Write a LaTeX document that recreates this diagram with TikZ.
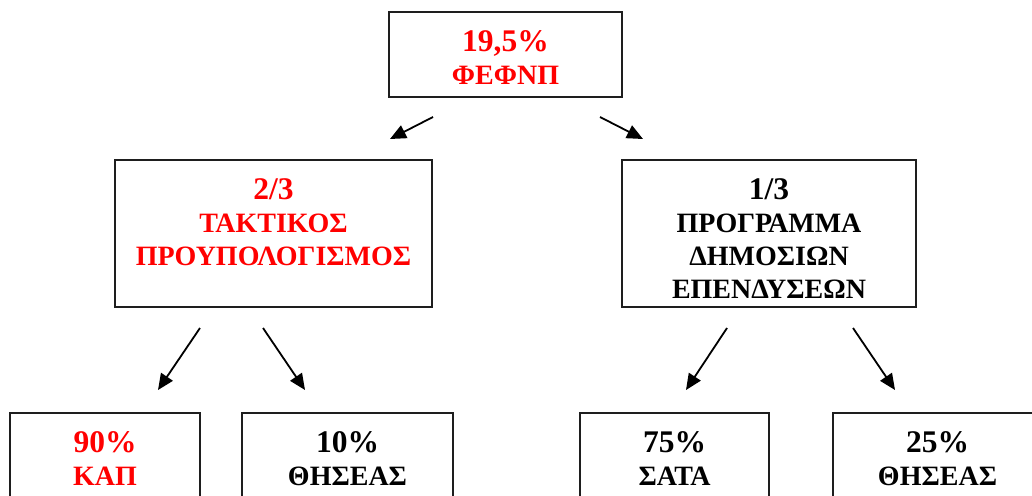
\documentclass[tikz,border=0pt]{standalone}
\usepackage{fontspec}
\setmainfont{Liberation Serif}
\usetikzlibrary{arrows.meta}
\definecolor{tred}{RGB}{255,0,0}
\definecolor{boxline}{RGB}{30,30,30}
\newcommand{\bignum}[1]{{\fontsize{31.5}{33}\selectfont #1}}
\begin{document}
\begin{tikzpicture}[x=1pt,y=-1pt,
  boxst/.style={draw=boxline,line width=1.6pt,fill=white},
  txt/.style={anchor=north,align=center,inner sep=0pt,font=\bfseries\fontsize{28}{33}\selectfont},
  arr/.style={line width=1.8pt,-{Triangle[length=16pt,width=14pt]}}]
\useasboundingbox (0,0) rectangle (1032,495);
\clip (0,0) rectangle (1032,495);
% boxes
\draw[boxst] (389,12) rectangle (622,97);
\coordinate (topN) at (505.5,12);
\draw[boxst] (115,160) rectangle (432,307);
\coordinate (mlN) at (273.5,160);
\draw[boxst] (622,160) rectangle (916,307);
\coordinate (mrN) at (769,160);
\draw[boxst] (10,413) rectangle (200,530);
\coordinate (b1N) at (105,413);
\draw[boxst] (242,413) rectangle (453,530);
\coordinate (b2N) at (347.5,413);
\draw[boxst] (580,413) rectangle (769,530);
\coordinate (b3N) at (674.5,413);
\draw[boxst] (833,413) rectangle (1042,530);
\coordinate (b4N) at (937.5,413);
% texts
\node[txt,text=tred] (ttop) at ([yshift=-18pt]topN) {\bignum{19,5\%}\\ΦΕΦΝΠ};
\node[txt,text=tred] (tml) at ([yshift=-18pt]mlN) {\bignum{2/3}\\ΤΑΚΤΙΚΟΣ\\ΠΡΟΥΠΟΛΟΓΙΣΜΟΣ};
\node[txt] (tmr) at ([yshift=-18pt]mrN) {\bignum{1/3}\\ΠΡΟΓΡΑΜΜΑ\\ΔΗΜΟΣΙΩΝ\\ΕΠΕΝΔΥΣΕΩΝ};
\node[txt,text=tred] (tb1) at ([yshift=-18pt]b1N) {\bignum{90\%}\\ΚΑΠ};
\node[txt] (tb2) at ([yshift=-18pt]b2N) {\bignum{10\%}\\ΘΗΣΕΑΣ};
\node[txt] (tb3) at ([yshift=-18pt]b3N) {\bignum{75\%}\\ΣΑΤΑ};
\node[txt] (tb4) at ([yshift=-18pt]b4N) {\bignum{25\%}\\ΘΗΣΕΑΣ};
% arrows
\coordinate (a1s) at (433,117); \coordinate (a1e) at (390,139);
\coordinate (a2s) at (600,117); \coordinate (a2e) at (643,139);
\coordinate (a3s) at (200,328); \coordinate (a3e) at (158,390);
\coordinate (a4s) at (263,328); \coordinate (a4e) at (305,390);
\coordinate (a5s) at (727,328); \coordinate (a5e) at (686,390);
\coordinate (a6s) at (853,328); \coordinate (a6e) at (895,390);
\draw[arr] (a1s) -- (a1e);
\draw[arr] (a2s) -- (a2e);
\draw[arr] (a3s) -- (a3e);
\draw[arr] (a4s) -- (a4e);
\draw[arr] (a5s) -- (a5e);
\draw[arr] (a6s) -- (a6e);
\end{tikzpicture}
\end{document}
